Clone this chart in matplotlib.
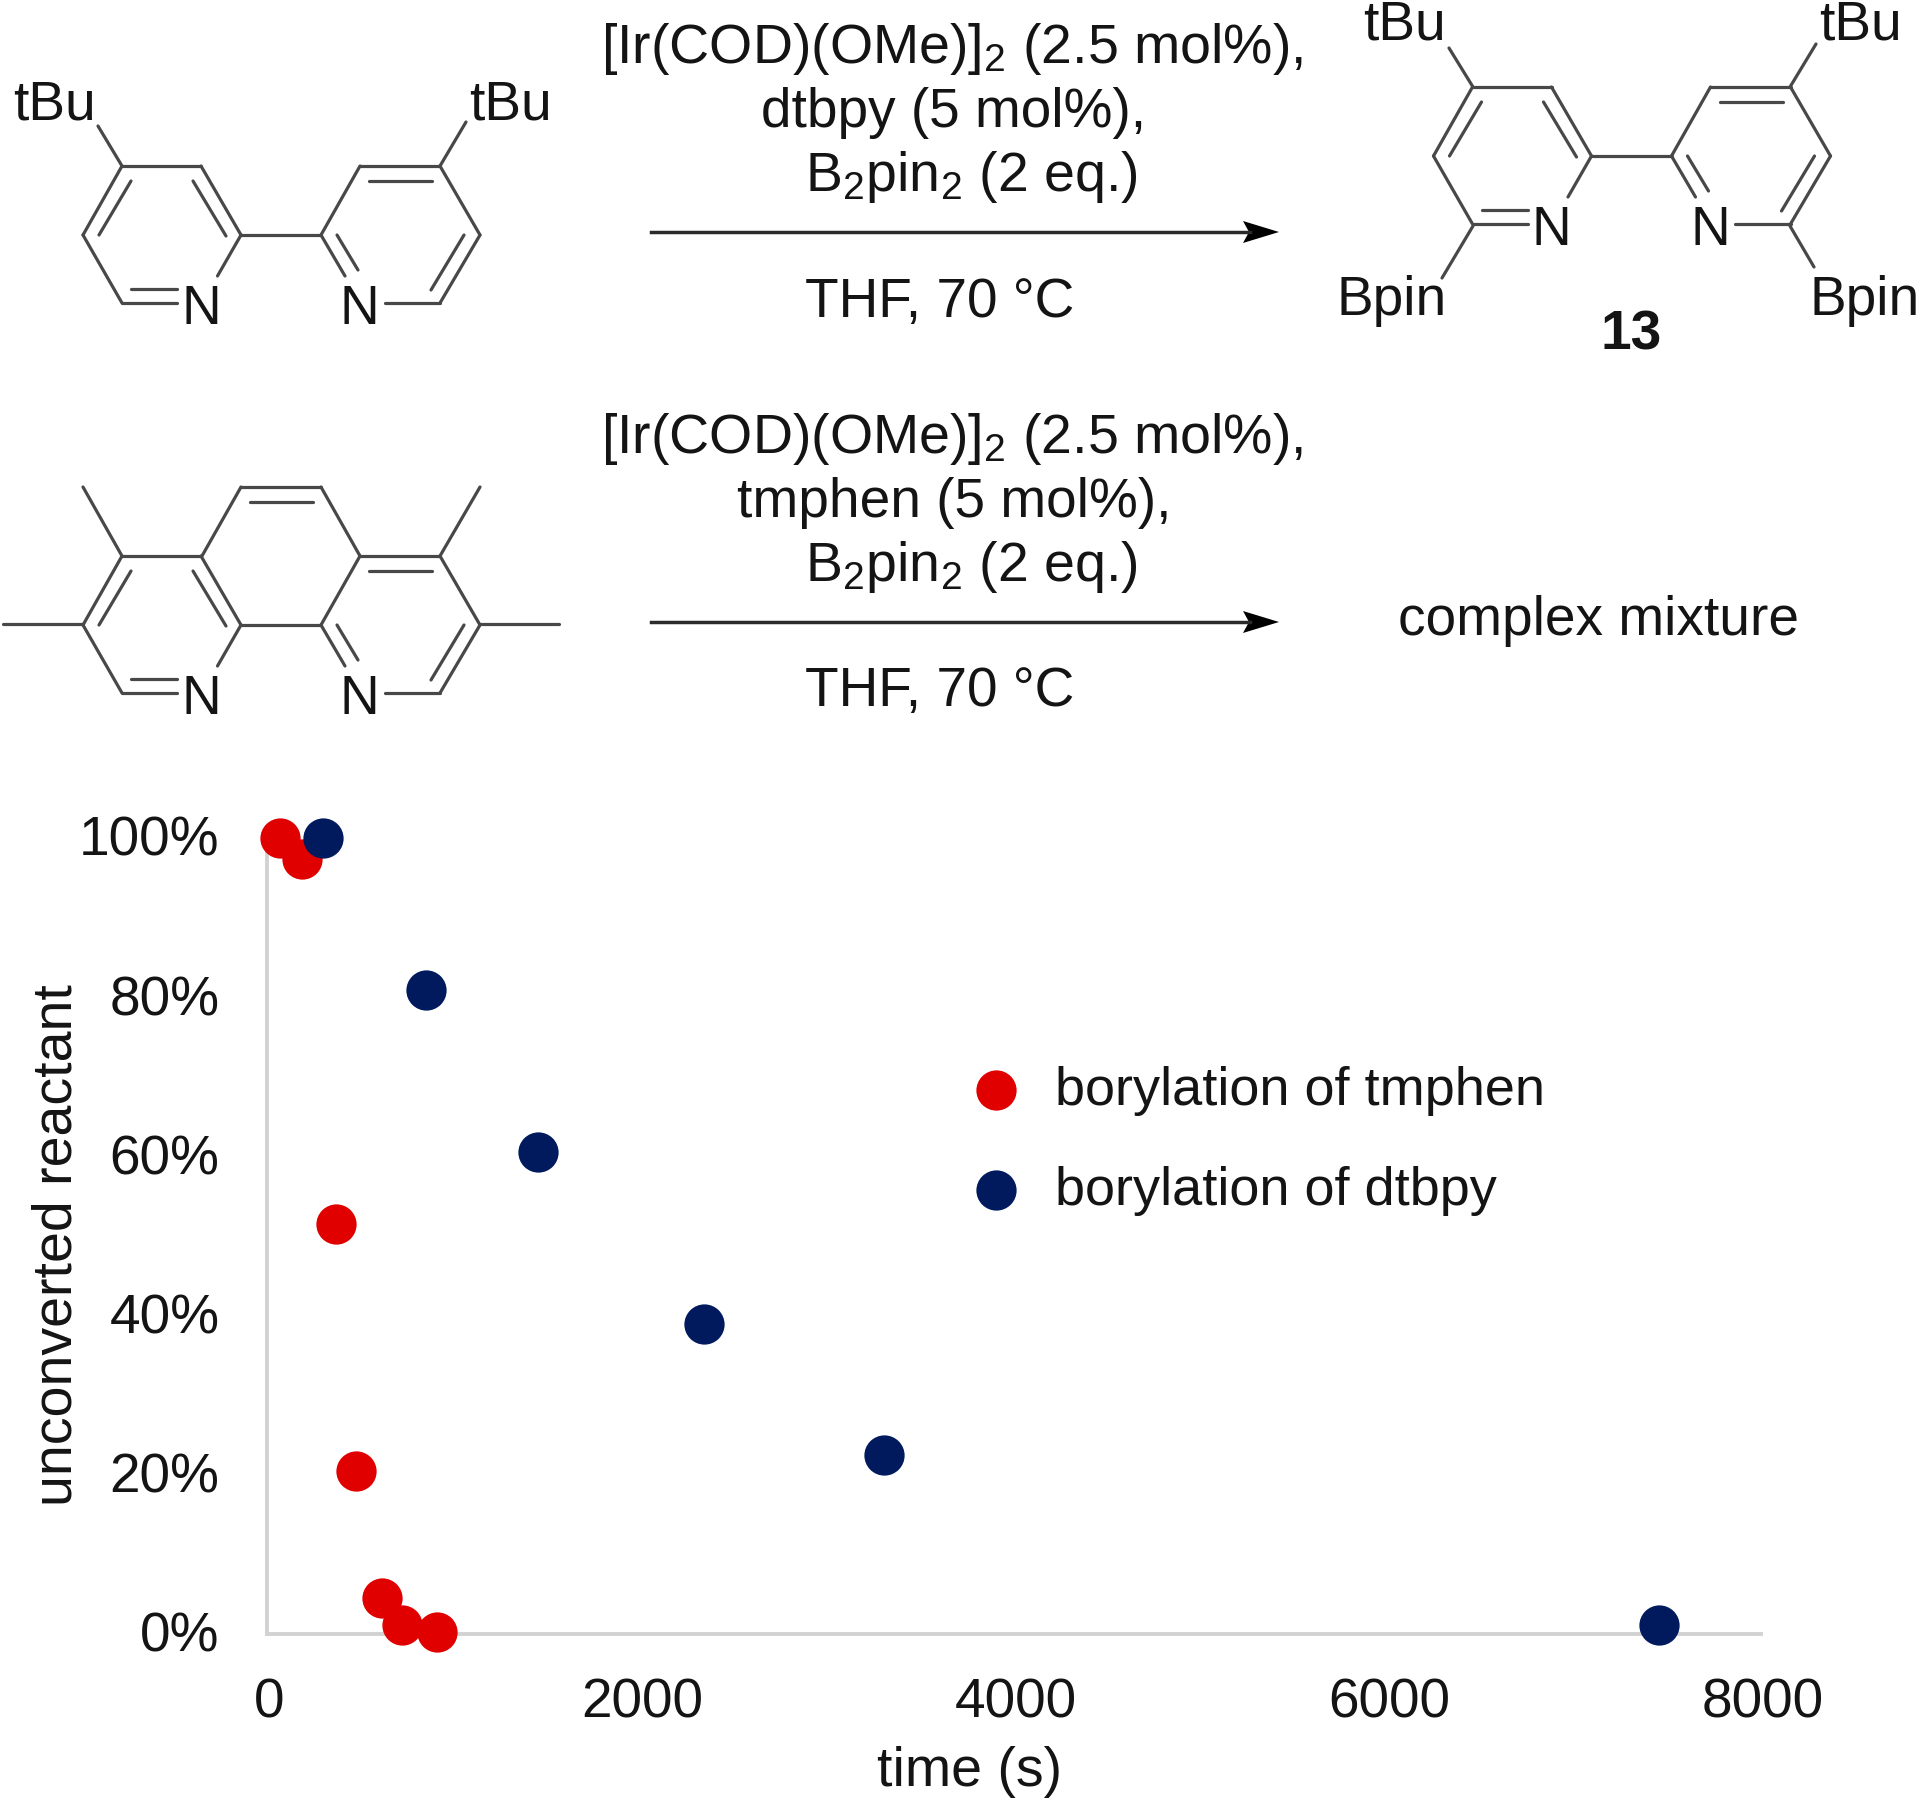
import matplotlib
matplotlib.use("Agg")
import matplotlib.pyplot as plt
from matplotlib.transforms import ScaledTranslation

plt.rcParams['font.family'] = ['Liberation Sans', 'DejaVu Sans']
plt.rcParams['mathtext.fontset'] = 'custom'
plt.rcParams['mathtext.rm'] = 'Liberation Sans'
plt.rcParams['mathtext.default'] = 'regular'

# datos
tiempo_tmphen = [72, 190, 367, 479, 616, 721, 911]
reactivo_tmphen = [100, 97.4, 51.5, 20.4, 4.5, 1.1, 0.2]
tiempo_dtbpy = [302, 852, 1449, 2341, 3305, 7456]
reactivo_dtbpy = [100, 80.9, 60.5, 38.9, 22.4, 1.1]

xticks = [0, 2000, 4000, 6000, 8000]
yticks = [0, 20, 40, 60, 80, 100]
yticklabels = ['0%', '20%', '40%', '60%', '80%', '100%']
etiqueta_tmphen = 'borylation of tmphen'
etiqueta_dtbpy = 'borylation of dtbpy'

ROJO = '#E00000'
AZUL = '#001A5E'
GRIS = '#D2D2D2'
NEGRO = '#141414'
ENLACE = '#484848'
FS = 39.6

W, H = 1920, 1799
fig = plt.figure(figsize=(W / 100, H / 100), dpi=100)

# capa para el esquema de reaccion, en pixeles de la imagen
esq = fig.add_axes([0, 0, 1, 1])
esq.set_xlim(0, W)
esq.set_ylim(H, 0)
esq.axis('off')

# enlaces del par de piridinas (los dos anillos, iguales en las tres moleculas)
anillos = [
    ((122, 167), (201, 167)), ((201, 167), (241, 236)), ((241, 236), (217.5, 277)),
    ((122, 304), (177, 304)), ((131, 290), (177, 290)), ((122, 304), (83, 236)),
    ((83, 236), (122, 167)), ((193, 182), (226, 237)), ((99, 236), (131, 182)),
    ((241, 236), (321, 236)),
    ((321, 236), (360, 167)), ((360, 167), (440, 167)), ((369, 182), (432, 182)),
    ((440, 167), (480, 236)), ((480, 236), (440, 304)), ((464, 236), (431, 291)),
    ((440, 304), (384.5, 304)), ((321, 236), (345, 277)), ((337, 236), (358, 271)),
]


def enlaces(lista, dx=0, dy=0):
    for a, b in lista:
        esq.plot([a[0] + dx, b[0] + dx], [a[1] + dy, b[1] + dy], color=ENLACE, lw=2.3,
                 solid_capstyle='round')


def etiqueta(x, y, s, **kw):
    esq.text(x, y, s, fontsize=kw.pop('fontsize', FS), color=NEGRO, ha='center', va='center', **kw)


def flecha(y):
    esq.plot([651, 1250], [y, y], color='#2a2a2a', lw=2.5)
    esq.fill([1279, 1243, 1249, 1243], [y, y - 11, y, y + 11], color='black', lw=0)


# molecula 1
enlaces(anillos)
enlaces([((122, 167), (98, 127)), ((440, 167), (466, 123))])
etiqueta(54, 105, 'tBu')
etiqueta(511, 105, 'tBu')
etiqueta(201, 310, 'N')
etiqueta(359, 310, 'N')

# producto 13
enlaces(anillos, 1350.5, -79)
enlaces([((1473, 88), (1449, 49)), ((1790, 88), (1816, 45)),
         ((1473, 227), (1442, 279)), ((1790, 227), (1814, 268))])
etiqueta(1404, 26, 'tBu')
etiqueta(1861, 26, 'tBu')
etiqueta(1551, 231, 'N')
etiqueta(1710, 231, 'N')
etiqueta(1392, 301, 'Bpin')
etiqueta(1865, 301, 'Bpin')
etiqueta(1631, 335, '13', fontweight='bold')

# molecula 2 (tmphen)
enlaces(anillos, 0, 390)
enlaces([((202, 557), (241, 488)), ((241, 488), (321, 488)), ((321, 488), (360, 557)),
         ((250, 503), (313, 503)), ((122, 557), (83, 488)), ((440, 557), (480, 488)),
         ((83, 625), (3, 625)), ((480, 625), (559, 625))])
etiqueta(201, 700, 'N')
etiqueta(359, 700, 'N')

# condiciones
flecha(233)
etiqueta(952, 49, r'[Ir(COD)(OMe)]$_2$ (2.5 mol%),', fontsize=40)
etiqueta(954, 113, 'dtbpy (5 mol%),')
etiqueta(971, 177, r'B$_2$pin$_2$ (2 eq.)', fontsize=40)
etiqueta(940, 303, 'THF, 70 °C')

flecha(623)
etiqueta(952, 439, r'[Ir(COD)(OMe)]$_2$ (2.5 mol%),', fontsize=40)
etiqueta(954, 503, 'tmphen (5 mol%),')
etiqueta(971, 567, r'B$_2$pin$_2$ (2 eq.)', fontsize=40)
etiqueta(940, 692, 'THF, 70 °C')
etiqueta(1599, 621, 'complex mixture')

# grafica
ax = fig.add_axes([267 / W, 1 - 1634.5 / H, (1761 - 267) / W, (1634.5 - 839) / H])
ax.patch.set_alpha(0)
ax.scatter(tiempo_tmphen, reactivo_tmphen, s=840, color=ROJO, linewidths=0, clip_on=False,
           label=etiqueta_tmphen, zorder=3)
ax.scatter(tiempo_dtbpy, reactivo_dtbpy, s=840, color=AZUL, linewidths=0, clip_on=False,
           label=etiqueta_dtbpy, zorder=4)

ax.set_xlim(0, 8000)
ax.set_ylim(0, 100)
ax.set_xticks(xticks)
ax.set_yticks(yticks)
ax.set_yticklabels(yticklabels)
ax.tick_params(axis='both', length=0, labelsize=FS, labelcolor=NEGRO)
ax.tick_params(axis='x', pad=31)
ax.tick_params(axis='y', pad=35)

# subir un poco las etiquetas de y, y correr las de x a la derecha
for lab in ax.get_yticklabels():
    lab.set_transform(lab.get_transform() + ScaledTranslation(1 / 100, 3 / 100, fig.dpi_scale_trans))
for lab in ax.get_xticklabels():
    lab.set_transform(lab.get_transform() + ScaledTranslation(2 / 100, 0, fig.dpi_scale_trans))

for lado in ['top', 'right']:
    ax.spines[lado].set_visible(False)
for lado in ['left', 'bottom']:
    ax.spines[lado].set_color(GRIS)
    ax.spines[lado].set_linewidth(2.8)

ax.set_xlabel('time (s)', fontsize=40, color=NEGRO, va='center')
ax.xaxis.set_label_coords(0.47, -0.1725)
ax.set_ylabel('unconverted reactant', fontsize=40, color=NEGRO, va='center')
ax.yaxis.set_label_coords(-0.1400, 0.49)

ax.legend(loc='center left', bbox_to_anchor=(0.4515, 0.62), frameon=False, fontsize=39,
          labelspacing=0.92, handletextpad=0.1, labelcolor=NEGRO, borderpad=0, borderaxespad=0)

fig.savefig('out.png', dpi=100)
